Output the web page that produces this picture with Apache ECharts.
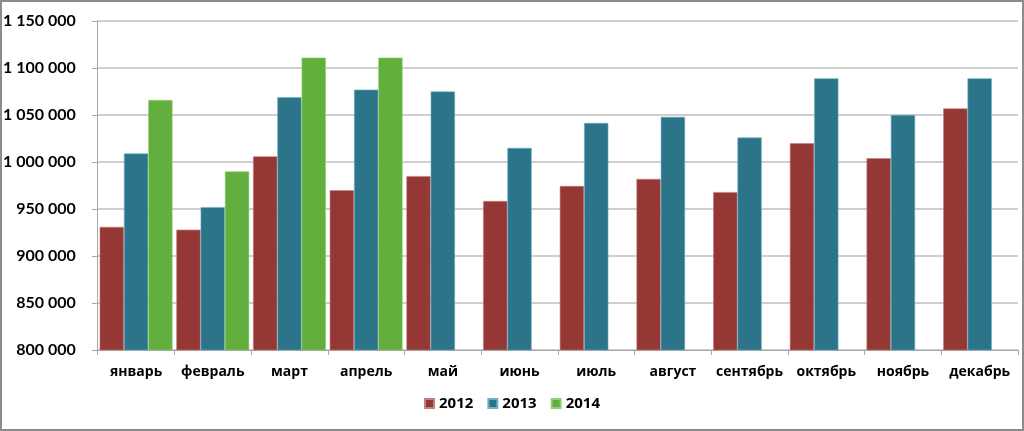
<!DOCTYPE html>
<html><head><meta charset="utf-8">
<script src="https://cdn.jsdelivr.net/npm/echarts@6/dist/echarts.min.js"></script>
<style>html,body{margin:0;padding:0;background:#fff}#c{width:1024px;height:431px}</style>
</head><body><div id="c"></div>
<script>
const months = ['январь','февраль','март','апрель','май','июнь','июль','август','сентябрь','октябрь','ноябрь','декабрь'];
const seriesNames = ['2012','2013','2014'];
const v2012 = [931000, 928000, 1006000, 970000, 985000, 958500, 974500, 982000, 968000, 1020000, 1004000, 1057000];
const v2013 = [1009000, 952000, 1069000, 1077000, 1075000, 1015000, 1041500, 1048000, 1026000, 1089000, 1050000, 1089000];
const v2014 = [1066000, 990000, 1111000, 1111000, null, null, null, null, null, null, null, null];
const colors = ['#953735', '#2B7489', '#62AF3D'];
const borders = ['#c27f7d', '#6fb0c4', '#93cf74'];

const chart = echarts.init(document.getElementById('c'));
const fmt = v => String(v).replace(/\B(?=(\d{3})+(?!\d))/g, ' ');
const data = [v2012, v2013, v2014];
chart.setOption({
  animation: false,
  color: colors,
  graphic: [{type:'rect', shape:{x:1,y:1,width:1022,height:429}, style:{fill:'none', stroke:'#8c8c8c', lineWidth:2}, z:-1}],
  grid: {left: 97, right: 6, top: 21, bottom: 81},
  legend: {
    data: seriesNames, bottom: 15, left: 'center', itemWidth: 9, itemHeight: 9, itemGap: 14,
    icon: 'rect',
    textStyle: {fontFamily: 'Open Sans', fontWeight: 'bold', fontSize: 15, color: '#000'}
  },
  xAxis: {
    type: 'category', data: months,
    axisLine: {lineStyle: {color: '#a6a6a6'}},
    axisTick: {show: true, length: 5, interval: 0, lineStyle: {color: '#a6a6a6'}},
    axisLabel: {interval: 0, fontFamily: 'Open Sans', fontWeight: 'bold', fontSize: 14, color: '#000', margin: 15}
  },
  yAxis: {
    type: 'value', min: 800000, max: 1150000, interval: 50000,
    axisLine: {show: true, lineStyle: {color: '#a6a6a6'}},
    axisTick: {show: true, length: 6, lineStyle: {color: '#a6a6a6'}},
    splitLine: {lineStyle: {color: '#bfbfbf', width: 1.5}},
    axisLabel: {fontFamily: 'Lato', fontWeight: 'bold', fontSize: 16, color: '#000', margin: 22, formatter: fmt}
  },
  series: seriesNames.map((n, i) => ({
    name: n, type: 'bar', data: data[i],
    barGap: '0%', barCategoryGap: '5%',
    itemStyle: {color: colors[i], borderColor: borders[i], borderWidth: 0.6}
  }))
});
</script></body></html>
